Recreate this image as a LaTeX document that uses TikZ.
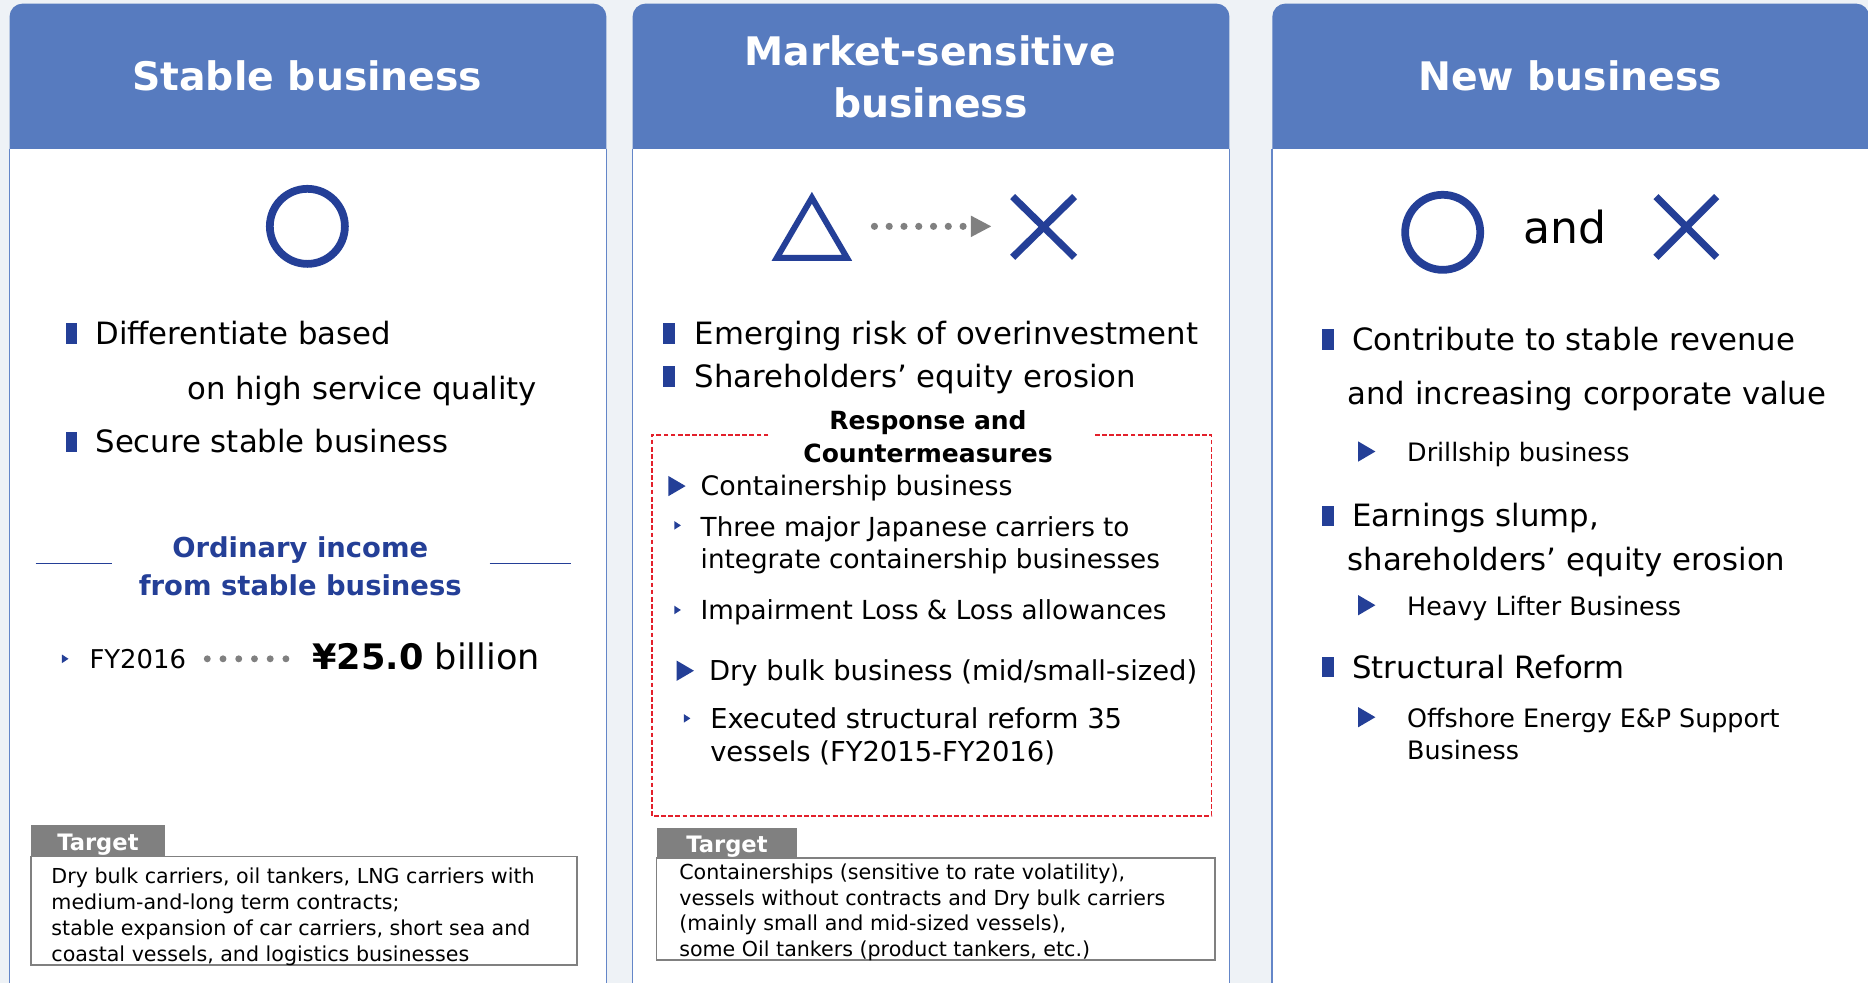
\documentclass[tikz,border=0pt]{standalone}
\usepackage{fontspec}
\setmainfont{DejaVu Sans}
\usetikzlibrary{arrows.meta}
\definecolor{hdr}{HTML}{577BBF}
\definecolor{pborder}{HTML}{6486C8}
\definecolor{dblue}{HTML}{243F97}
\definecolor{bg}{HTML}{EEF2F6}
\definecolor{tgray}{HTML}{808080}
\definecolor{dred}{HTML}{E3202B}
\tikzset{
  hdrtext/.style={text=white, inner sep=0pt, align=center, font=\fontsize{33}{43}\selectfont\bfseries},
  bodytxt/.style={anchor=mid west, inner sep=0pt, yshift=-6.5pt, font=\fontsize{25.8}{31}\selectfont},
  subtxt/.style={anchor=mid west, inner sep=0pt, yshift=-5.5pt, font=\fontsize{22}{27}\selectfont},
  midtxt/.style={anchor=mid west, inner sep=0pt, yshift=-5.5pt, font=\fontsize{23}{28}\selectfont},
  rsubtxt/.style={anchor=mid west, inner sep=0pt, yshift=-5.5pt, font=\fontsize{21.3}{26}\selectfont},
  smalltxt/.style={anchor=mid west, inner sep=0pt, yshift=-4pt, font=\fontsize{17.3}{21}\selectfont},
  tabtxt/.style={text=white, inner sep=0pt, yshift=-3pt, font=\fontsize{19}{22}\selectfont\bfseries},
  oitxt/.style={text=dblue, inner sep=0pt, yshift=-3pt, font=\fontsize{23}{28}\selectfont\bfseries},
  rchead/.style={inner sep=0pt, align=center, font=\fontsize{21}{27}\selectfont\bfseries},
  sqbullet/.style={fill=dblue, minimum width=10pt, minimum height=17pt, inner sep=0pt},
  symline/.style={draw=dblue, line width=6pt},
  pside/.style={draw=pborder, line width=1.5pt},
  tabbox/.style={fill=tgray, anchor=south west, inner sep=0pt},
  tbox/.style={draw=tgray, line width=1.5pt},
  dotline/.style={tgray, line width=6pt, line cap=round, dash pattern=on 0pt off 12.4pt},
  rdash/.style={draw=dred, line width=1.5pt, dash pattern=on 4pt off 2pt},
}
\newcommand\bigtri[2]{\fill[dblue] (#1,#2-8.5) -- (#1+14.5,#2) -- (#1,#2+8.5) -- cycle;}
\newcommand\smtri[2]{\fill[dblue] (#1,#2-3.6) -- (#1+5.5,#2) -- (#1,#2+3.6) -- cycle;}
\begin{document}
\begin{tikzpicture}[x=1pt,y=-1pt]
\useasboundingbox (0,0) rectangle (1568,825);
\clip (0,0) rectangle (1568,825);
\fill[bg] (0,0) rectangle (1568,825);

% ---------- panels ----------
\foreach \l/\r in {8/509, 531/1032, 1068/1569}{
  \fill[hdr, rounded corners=11pt] (\l,3) rectangle (\r,150);
  \fill[white] (\l,125) rectangle (\r,840);
  \draw[pside] (\l,125) -- (\l,840);
  \draw[pside] (\r,125) -- (\r,840);
}

% headers
\node[hdrtext] (h1) at (258,64) {Stable business};
\node[hdrtext] (h2) at (781,64.5) {Market-sensitive\\business};
\node[hdrtext] (h3) at (1318,64) {New business};

% ---------- panel 1 ----------
\draw[dblue, line width=6.5pt] (258,190) circle (31.5);

\node[sqbullet] (p1b1) at (60,280) {};
\node[bodytxt] (p1t1) at (80,280) {Differentiate based};
\node[bodytxt] (p1t2) at (157,326) {on high service quality};
\node[sqbullet] (p1b2) at (60,371) {};
\node[bodytxt] (p1t3) at (80,371) {Secure stable business};

\node[oitxt] (oi1) at (252,459) {Ordinary income};
\node[oitxt] (oi2) at (252,488) {from stable business};
\coordinate (ll1) at (30,473); \coordinate (ll2) at (94,473);
\coordinate (lr1) at (411,473); \coordinate (lr2) at (479,473);
\draw[dblue, line width=1.2pt] (ll1) -- (ll2);
\draw[dblue, line width=1.2pt] (lr1) -- (lr2);

\smtri{52}{553}
\node[anchor=mid west, inner sep=0pt, yshift=-5.5pt, font=\fontsize{21.7}{26}\selectfont] (fy) at (75,553) {FY2016};
\foreach \i in {0,...,5} \fill[tgray] (174+\i*13.2,553) circle (2.9);
\node[anchor=mid west, inner sep=0pt, yshift=-8pt, font=\fontsize{29.5}{34}\selectfont] (amt) at (262,551) {\bfseries ¥25.0\mdseries\ billion};

\node[tabbox, minimum width=112pt, minimum height=26pt] (tab1) at (26,719) {};
\node[tabtxt] (tab1t) at (tab1.center) {Target};
\draw[tbox] (26,719) rectangle (484,810);
\node[smalltxt] (g1) at (43,735) {Dry bulk carriers, oil tankers, LNG carriers with};
\node[smalltxt] (g2) at (43,757) {medium-and-long term contracts;};
\node[smalltxt] (g3) at (43,778.5) {stable expansion of car carriers, short sea and};
\node[smalltxt] (g4) at (43,800) {coastal vessels, and logistics businesses};

% ---------- panel 2 ----------
\draw[dblue, line width=5pt, line join=miter] (652,216.5) -- (681.5,166) -- (711,216.5) -- cycle;
\coordinate (arrS) at (734,190);
\coordinate (arrE) at (809,190);
\draw[dotline] (arrS) -- (arrE);
\fill[tgray] (815,181) -- (832,190) -- (815,199) -- cycle;
\draw[symline] (850,165) -- (902,216);
\draw[symline] (850,216) -- (902,165);

\node[sqbullet] (p2b1) at (561.5,280) {};
\node[bodytxt] (p2t1) at (583,280) {Emerging risk of overinvestment};
\node[sqbullet] (p2b2) at (561.5,316) {};
\node[bodytxt] (p2t2) at (583,316) {Shareholders’ equity erosion};

\draw[rdash] (645,365) -- (547,365) -- (547,685) -- (1017,685) -- (1017,365) -- (918,365);
\node[rchead] (rc) at (779,366.5) {Response and\\Countermeasures};

\bigtri{561}{408}
\node[midtxt, font=\fontsize{22.5}{27}\selectfont] (c1) at (588,408) {Containership business};
\smtri{566}{441}
\node[subtxt] (c2) at (588,442) {Three major Japanese carriers to};
\node[subtxt] (c3) at (588,469) {integrate containership businesses};
\smtri{566}{512}
\node[subtxt] (c4) at (588,512) {Impairment Loss \& Loss allowances};
\bigtri{568}{563}
\node[midtxt] (c5) at (595,563) {Dry bulk business (mid/small-sized)};
\smtri{574}{603}
\node[midtxt] (c6) at (596,603) {Executed structural reform 35};
\node[midtxt] (c7) at (596,631) {vessels (FY2015-FY2016)};

\node[tabbox, minimum width=118pt, minimum height=25pt] (tab2) at (551,720) {};
\node[tabtxt] (tab2t) at (tab2.center) {Target};
\draw[tbox] (551,720) rectangle (1020,806);
\node[smalltxt] (m1) at (570,731.5) {Containerships (sensitive to rate volatility),};
\node[smalltxt] (m2) at (570,753) {vessels without contracts and Dry bulk carriers};
\node[smalltxt] (m3) at (570,774.5) {(mainly small and mid-sized vessels),};
\node[smalltxt] (m4) at (570,796) {some Oil tankers (product tankers, etc.)};

% ---------- panel 3 ----------
\draw[dblue, line width=6.5pt] (1211,195) circle (31.5);
\node[inner sep=0pt, font=\fontsize{37}{42}\selectfont] (and) at (1314,191) {and};
\draw[symline] (1390,165) -- (1441,216);
\draw[symline] (1390,216) -- (1441,165);

\node[sqbullet] (p3b1) at (1115,285) {};
\node[bodytxt] (n1) at (1135,285) {Contribute to stable revenue};
\node[bodytxt] (n2) at (1131,330) {and increasing corporate value};
\bigtri{1140}{379}
\node[rsubtxt] (n3) at (1181,379) {Drillship business};
\node[sqbullet] (p3b2) at (1115,433) {};
\node[bodytxt] (n4) at (1135,433) {Earnings slump,};
\node[bodytxt] (n5) at (1131,470) {shareholders’ equity erosion};
\bigtri{1140}{508}
\node[rsubtxt] (n6) at (1181,508) {Heavy Lifter Business};
\node[sqbullet] (p3b3) at (1115,560) {};
\node[bodytxt] (n7) at (1135,560) {Structural Reform};
\bigtri{1140}{602}
\node[rsubtxt] (n8) at (1181,602) {Offshore Energy E\&P Support};
\node[rsubtxt] (n9) at (1181,629) {Business};
\end{tikzpicture}
\end{document}
